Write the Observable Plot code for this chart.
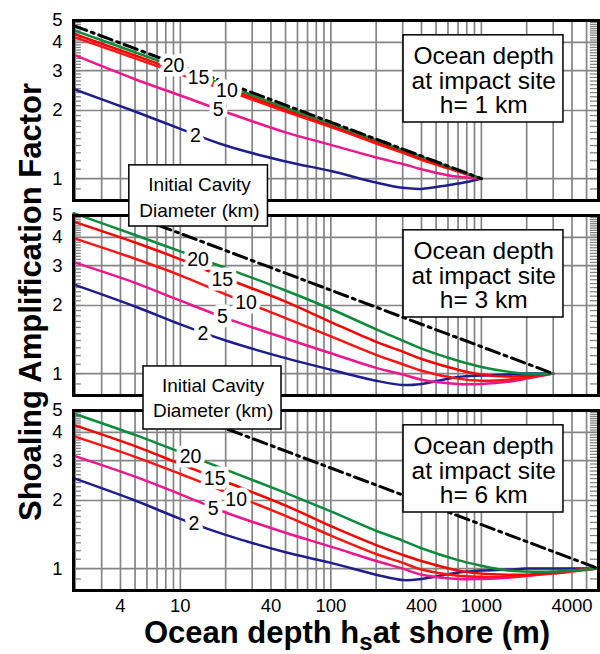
<!DOCTYPE html>
<html><head><meta charset="utf-8">
<script src="https://cdn.jsdelivr.net/npm/d3@7"></script>
<script src="https://cdn.jsdelivr.net/npm/@observablehq/plot@0.6"></script>
<style>body{margin:0;background:#fff;} svg{display:block}</style>
</head><body><div id="chart"></div>
<script>
// ---------- data ----------
const panels = ["1 km", "3 km", "6 km"];
const diameters = [2, 5, 10, 15, 20];
const diamColors = ["#1e1e8c", "#f0168c", "#ff1414", "#ff0000", "#0e8a3c"];
const xTicks = [4, 10, 40, 100, 400, 1000, 4000];
const yTicks = [1, 2, 3, 4, 5];

// h = 1 km
const hs1 = [1.95, 5, 10, 20, 50, 100, 200, 300, 400, 600, 800, 1000];
const h1_d20 = [4.53, 3.62, 3.06, 2.59, 2.06, 1.75, 1.48, 1.34, 1.25, 1.13, 1.055, 1.0];
const h1_d15 = [4.37, 3.50, 2.97, 2.52, 2.02, 1.72, 1.46, 1.32, 1.23, 1.12, 1.05, 1.0];
const h1_d10 = [4.23, 3.40, 2.89, 2.46, 1.98, 1.69, 1.43, 1.30, 1.21, 1.11, 1.045, 1.0];
const h1_d5  = [3.53, 2.75, 2.33, 1.97, 1.60, 1.41, 1.24, 1.16, 1.10, 1.035, 1.01, 1.0];
const h1_d2  = [2.49, 1.98, 1.66, 1.40, 1.19, 1.08, 0.96, 0.91, 0.90, 0.935, 0.965, 1.0];

// h = 3 km
const hs3 = [1.95, 5, 10, 20, 50, 100, 200, 300, 400, 700, 1000, 1500, 2000, 3000];
const h3_d20 = [5.12, 4.10, 3.47, 2.93, 2.33, 1.93, 1.57, 1.40, 1.29, 1.14, 1.07, 1.02, 1.0, 1.0];
const h3_d15 = [4.70, 3.80, 3.20, 2.64, 2.08, 1.69, 1.38, 1.25, 1.16, 1.04, 0.99, 0.97, 0.98, 1.0];
const h3_d10 = [3.97, 3.22, 2.72, 2.24, 1.76, 1.46, 1.21, 1.10, 1.03, 0.95, 0.93, 0.94, 0.96, 1.0];
const h3_d5  = [3.11, 2.52, 2.10, 1.76, 1.43, 1.23, 1.06, 0.99, 0.94, 0.90, 0.90, 0.92, 0.95, 1.0];
const h3_d2  = [2.48, 1.98, 1.65, 1.40, 1.17, 1.04, 0.93, 0.89, 0.90, 0.965, 0.98, 0.99, 1.0, 1.0];

// h = 6 km
const hs6 = [1.95, 5, 10, 20, 50, 100, 200, 300, 400, 700, 1000, 1500, 2000, 3000, 4000, 6000];
const h6_d20 = [4.85, 3.90, 3.27, 2.74, 2.16, 1.79, 1.47, 1.33, 1.23, 1.09, 1.03, 0.98, 0.97, 0.97, 0.98, 1.0];
const h6_d15 = [4.32, 3.48, 2.90, 2.42, 1.90, 1.54, 1.27, 1.15, 1.08, 0.98, 0.95, 0.94, 0.94, 0.96, 0.98, 1.0];
const h6_d10 = [3.85, 3.12, 2.62, 2.18, 1.71, 1.40, 1.16, 1.06, 0.99, 0.93, 0.92, 0.92, 0.93, 0.95, 0.97, 1.0];
const h6_d5  = [3.16, 2.55, 2.13, 1.77, 1.44, 1.25, 1.08, 1.00, 0.94, 0.90, 0.90, 0.91, 0.93, 0.96, 0.98, 1.0];
const h6_d2  = [2.51, 2.00, 1.66, 1.41, 1.18, 1.06, 0.94, 0.89, 0.90, 0.96, 0.98, 0.99, 1.0, 1.0, 1.0, 1.0];

// dash-dot reference line
const dashPanel = ["1 km", "1 km", "3 km", "3 km", "3 km", "6 km", "6 km", "6 km"];
const dashHs    = [1.95, 1000, 4.8, 318, 3000, 9.6, 4170, 6000];
const dashA     = [4.75, 1.0, 5.0, 1.75, 1.0, 5.0, 1.095, 1.0];

// curve labels
const labPanel = ["1 km","1 km","1 km","1 km","1 km","3 km","3 km","3 km","3 km","3 km","6 km","6 km","6 km","6 km","6 km"];
const labText  = ["20","15","10","5","2","20","15","10","5","2","20","15","10","5","2"];
const labHs    = [9.0, 13.2, 20.4, 17.8, 12.6, 13.1, 19.0, 27.3, 19.0, 14.1, 11.7, 16.9, 23.5, 16.5, 12.3];
const labA     = [3.16, 2.80, 2.45, 2.02, 1.55, 3.19, 2.60, 2.05, 1.78, 1.50, 3.12, 2.50, 2.02, 1.84, 1.58];

// annotation boxes
const depthText = ["Ocean depth\nat impact site\nh= 1 km", "Ocean depth\nat impact site\nh= 3 km", "Ocean depth\nat impact site\nh= 6 km"];
const depthBoxX = [304, 3510], depthBoxY = [1.77, 4.3], depthTextPos = [1036, 2.70];
const cavPanel = ["3 km", "6 km"];
const cavText = "Initial Cavity\nDiameter (km)";
const cavX1 = [4.58, 5.69], cavX2 = [38.2, 47.0], cavY1 = [4.47, 4.12], cavY2 = [8.33, 7.83];
const cavTX = [13.4, 16.5], cavTY = [6.10, 5.79];

// ---------- build tables ----------
const curveSets = [
  ["1 km", hs1, [h1_d2, h1_d5, h1_d10, h1_d15, h1_d20]],
  ["3 km", hs3, [h3_d2, h3_d5, h3_d10, h3_d15, h3_d20]],
  ["6 km", hs6, [h6_d2, h6_d5, h6_d10, h6_d15, h6_d20]]
];
const curves = [];
for (const [panel, hs, sets] of curveSets)
  sets.forEach((vals, k) => vals.forEach((a, i) =>
    curves.push({panel, D: diameters[k], hs: hs[i], A: a})));
const dash = dashHs.map((h, i) => ({panel: dashPanel[i], hs: h, A: dashA[i]}));
const labels = labText.map((t, i) => ({panel: labPanel[i], text: t, hs: labHs[i], A: labA[i]}));
const depthBoxes = panels.map((p, i) => ({panel: p, text: depthText[i]}));
const cavBoxes = cavPanel.map((p, i) => ({panel: p, x1: cavX1[i], x2: cavX2[i], y1: cavY1[i], y2: cavY2[i], tx: cavTX[i], ty: cavTY[i]}));
const xTickRows = xTicks.map(v => ({panel: panels[2], v}));

const vGrid = [];
for (const m of [1, 10, 100, 1000]) for (let k = 1; k <= 9; k++) { const v = k * m; if (v >= 2 && v < 6000) vGrid.push(v); }
const minor = d3.range(8, 50).map(v => v / 10);

const grid = "#858585";
const font = "'Liberation Sans', Arial, Helvetica, sans-serif";
const chart = Plot.plot({
  width: 600, height: 654,
  marginLeft: 73, marginRight: 2, marginTop: 20, marginBottom: 64,
  style: {fontFamily: font, background: "white", color: "black"},
  x: {type: "log", domain: [1.95, 6000], axis: null},
  y: {type: "log", domain: [0.8, 5], axis: null},
  fy: {domain: panels, axis: null, paddingInner: 0.078, paddingOuter: 0, label: null},
  color: {type: "ordinal", domain: diameters, range: diamColors},
  marks: [
    Plot.ruleX(vGrid, {stroke: grid, strokeWidth: 1.7}),
    Plot.ruleY([1, 2, 3, 4], {stroke: grid, strokeWidth: 1.7}),
    Plot.ruleY(minor, {y: d => d, x1: 1.95, x2: 2.2, stroke: grid, strokeWidth: 1.3}),
    Plot.ruleY(minor, {y: d => d, x1: 5300, x2: 6000, stroke: grid, strokeWidth: 1.3}),
    // tick labels
    Plot.text(xTickRows, {x: "v", y: () => 0.8, fy: "panel", text: d => String(d.v), lineAnchor: "top", dy: 8, fontSize: 18.5, fill: "black"}),
    Plot.text(yTicks, {x: () => 1.95, y: d => d, text: d => String(d), textAnchor: "end", dx: -11, fontSize: 18.5, fill: "black"}),
    Plot.line(curves, {x: "hs", y: "A", z: "D", stroke: "D", fy: "panel", strokeWidth: 2.5, curve: "catmull-rom"}),
    Plot.line(dash, {x: "hs", y: "A", fy: "panel", stroke: "black", strokeWidth: 3, strokeDasharray: "14,5,3,5"}),
    Plot.text(labels, {x: "hs", y: "A", text: "text", fy: "panel", fontSize: 19.5, fill: "black", stroke: "white", strokeWidth: 9, paintOrder: "stroke"}),
    Plot.frame({stroke: "black", strokeWidth: 3}),
    Plot.rect(depthBoxes, {x1: depthBoxX[0], x2: depthBoxX[1], y1: depthBoxY[0], y2: depthBoxY[1], fy: "panel", fill: "white", stroke: "black", strokeWidth: 1.5}),
    Plot.text(depthBoxes, {x: depthTextPos[0], y: depthTextPos[1], text: "text", fy: "panel", fontSize: 24.5, lineHeight: 1.0, fill: "black"}),
    Plot.rect(cavBoxes, {x1: "x1", x2: "x2", y1: "y1", y2: "y2", fy: "panel", fill: "white", stroke: "black", strokeWidth: 1.5}),
    Plot.text(cavBoxes, {x: "tx", y: "ty", text: () => cavText, fy: "panel", fontSize: 19, lineHeight: 1.32, fill: "black"})
  ]
});
document.getElementById("chart").append(chart);

// axis titles
const svg = d3.select(chart);
const titleFont = "bold 31px " + font;
svg.append("text")
  .attr("transform", "translate(30,302) rotate(-90)")
  .attr("text-anchor", "middle").attr("dy", "0.36em")
  .attr("fill", "black").style("font", titleFont)
  .text("Shoaling Amplification Factor");
const xt = svg.append("text").attr("x", 347).attr("y", 643)
  .attr("text-anchor", "middle").attr("fill", "black").style("font", titleFont);
xt.append("tspan").text("Ocean depth h");
xt.append("tspan").attr("dy", 7).style("font-size", "24px").text("s");
xt.append("tspan").attr("dy", -7).text("at shore (m)");
</script>
</body></html>
